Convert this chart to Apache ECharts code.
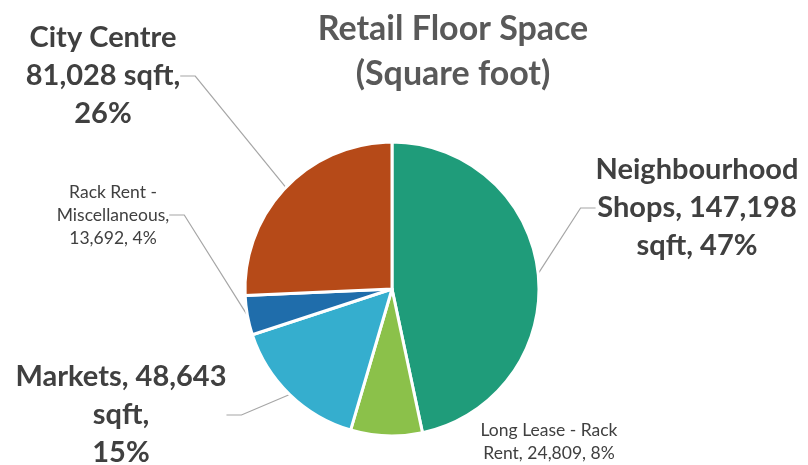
<!DOCTYPE html>
<html>
<head>
<meta charset="utf-8">
<script src="https://cdn.jsdelivr.net/npm/echarts@6/dist/echarts.min.js"></script>
<style>
  html, body { margin: 0; padding: 0; background: #fff; }
  #chart { width: 808px; height: 465px; }
</style>
</head>
<body>
<div id="chart"></div>
<script>
// 数据
var categories = ['Neighbourhood Shops', 'Long Lease - Rack Rent', 'Markets', 'Rack Rent - Miscellaneous', 'City Centre'];
var values = [147198, 24809, 48643, 13692, 81028];
var labelTexts = [
  'Neighbourhood\nShops, 147,198\nsqft, 47%',
  'Long Lease - Rack\nRent, 24,809, 8%',
  'Markets, 48,643\nsqft,\n15%',
  'Rack Rent -\nMiscellaneous,\n13,692, 4%',
  'City Centre\n81,028 sqft,\n26%'
];
var colors = ['#1F9C7A', '#8BC14A', '#35AECE', '#1F6DAB', '#B64A18'];

// 标签位置 (label anchor)
var labelPos = [
  [697, 208], [549, 442], [121, 415], [113, 215], [103, 76]
];
var bigLabel = [true, false, true, false, true];
var showLine = [true, false, true, true, true];

var chart = echarts.init(document.getElementById('chart'), null, {renderer: 'canvas'});

var data = categories.map(function (name, i) {
  var big = bigLabel[i];
  return {
    name: name,
    value: values[i],
    itemStyle: {color: colors[i]},
    label: {
      formatter: labelTexts[i],
      fontSize: big ? 29 : 17.5,
      fontWeight: big ? 'bold' : 'normal',
      lineHeight: big ? 38 : 23,
      color: '#404040'
    },
    labelLine: {show: showLine[i]}
  };
});

var option = {
  backgroundColor: '#fff',
  title: {
    text: 'Retail Floor Space\n(Square foot)',
    left: 448,
    top: 2,
    textAlign: 'center',
    textStyle: {
      fontFamily: 'Lato',
      fontSize: 34,
      fontWeight: 'bold',
      color: '#595959',
      lineHeight: 45
    }
  },
  series: [{
    type: 'pie',
    center: [392, 289],
    radius: [0, 147],
    startAngle: 90,
    clockwise: true,
    animation: false,
    itemStyle: {
      borderColor: '#fff',
      borderWidth: 3
    },
    label: {
      show: true,
      position: 'outside',
      fontFamily: 'Lato',
      align: 'center'
    },
    labelLine: {
      show: true,
      length: 15,
      length2: 15,
      lineStyle: {color: '#A6A6A6', width: 1.2}
    },
    labelLayout: function (params) {
      var p = labelPos[params.dataIndex];
      return {
        x: p[0],
        y: p[1],
        align: 'center',
        verticalAlign: 'middle'
      };
    },
    data: data
  }]
};

chart.setOption(option);
</script>
</body>
</html>
